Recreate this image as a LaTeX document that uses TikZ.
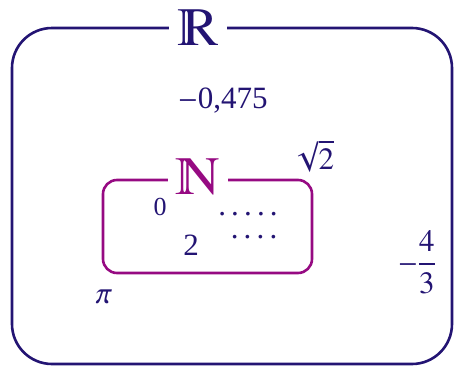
\documentclass[tikz,border=0pt]{standalone}
\usepackage{amsmath}
\usepackage{txfonts}
\usepackage{fontspec}
\setmainfont{Liberation Serif}
\definecolor{realcol}{RGB}{35,20,115}
\definecolor{natcol}{RGB}{150,10,130}
\ifdefined\varmathbb
  \newcommand\setsym[1]{\varmathbb{#1}}
\else
  \newcommand\setsym[1]{\mathbb{#1}}
\fi

\begin{document}
\begin{tikzpicture}[x=1pt,y=-1pt,line cap=round,line join=round,
  setbox/.style={draw=#1,line width=2.6pt},
  setname/.style={text=#1,fill=white,inner xsep=8pt,inner ysep=0pt,font=\fontsize{54}{58}\selectfont},
  elem/.style={text=realcol,inner sep=0pt,font=\fontsize{31}{36}\selectfont}]
\path[use as bounding box] (0,0) rectangle (455,367);
% the two sets
\draw[setbox=realcol,rounded corners=40pt] (12,28) rectangle (452,364);
\draw[setbox=natcol,rounded corners=14pt] (103,180) rectangle (312,273);
\node[setname=realcol] (R) at (198,28) {$\setsym{R}$};
\node[setname=natcol] (N) at (198,177) {$\setsym{N}$};
% elements
\node[elem] (a) at (223,101) {$-$0,475};
\node[elem] (sq) at (313,156) {$\sqrt{2}$};
\node[elem,font=\fontsize{26}{30}\selectfont] (zero) at (160,207) {0};
\node[elem] (two) at (191,245) {2};
\node[elem] (d1) at (248,214) {.\,.\,.\,.\,.};
\node[elem] (d2) at (254,237) {.\,.\,.\,.};
\node[elem] (pi) at (104,297) {$\pi$};
\node[elem] (q) at (417,262) {$-\dfrac{4}{3}$};
\end{tikzpicture}
\end{document}
